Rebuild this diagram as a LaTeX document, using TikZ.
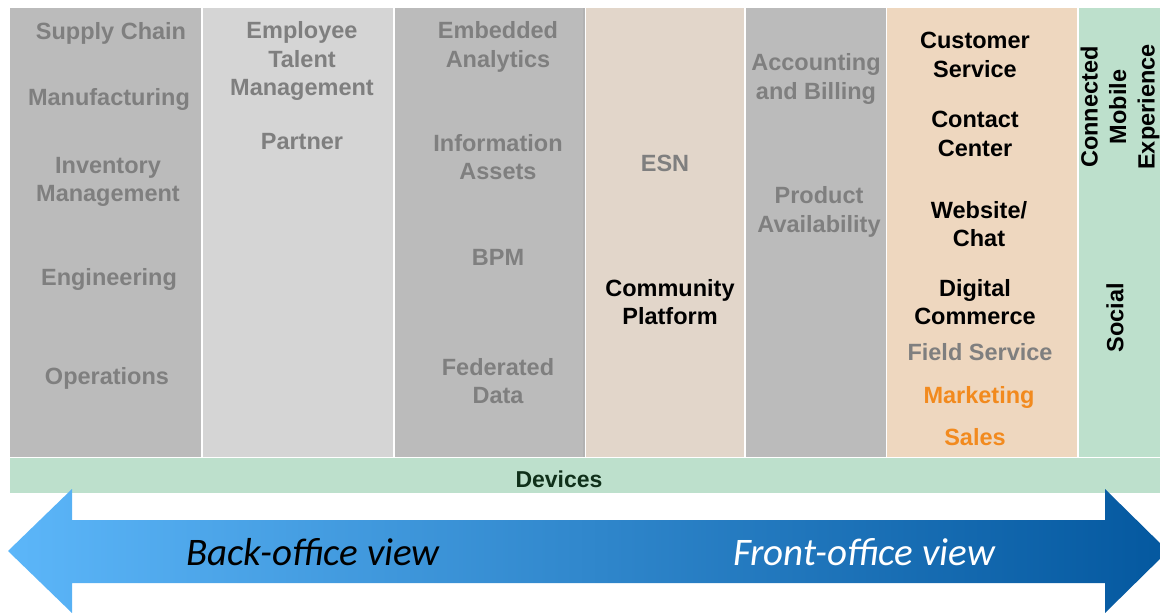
\documentclass[tikz,border=0pt]{standalone}
\usepackage{fontspec}
\setmainfont{Liberation Sans}
\newfontfamily\viewfont{Carlito}
\definecolor{darkcol}{HTML}{BBBBBB}
\definecolor{lightcol}{HTML}{D5D5D5}
\definecolor{esncol}{HTML}{E2D6CA}
\definecolor{frontcol}{HTML}{EED7BF}
\definecolor{greencol}{HTML}{BDE0CC}
\definecolor{txtgrey}{HTML}{7F7F7F}
\definecolor{txtorange}{HTML}{F28A1E}
\definecolor{txtdevices}{HTML}{10301A}
\definecolor{arrowlight}{HTML}{5CB6F9}
\definecolor{arrowmid}{HTML}{0A80E0}
\definecolor{arrowdark}{HTML}{04589F}
\tikzset{
  greytxt/.style={font=\bfseries\fontsize{23.5}{28.5}\selectfont, text=txtgrey, align=center, inner sep=0pt},
  blacktxt/.style={greytxt, text=black},
  orangetxt/.style={greytxt, text=txtorange},
  viewtxt/.style={font=\viewfont\itshape\fontsize{39}{44}\selectfont, inner sep=0pt},
}
\begin{document}
\begin{tikzpicture}[x=1pt,y=-1pt]
\useasboundingbox (0,0) rectangle (1160,613);

% Drawing columns
\fill [darkcol] (10,8) rectangle (201,457);%
\fill [lightcol] (203,8) rectangle (393,457);%
\fill [darkcol] (395,8) rectangle (584,457);%
\draw [line width=1.5pt, black!30] (584,8) -- (584,457);%
\fill [esncol] (586,8) rectangle (744,457);%
\fill [darkcol] (746,8) rectangle (886,457);%
\fill [frontcol] (887,8) rectangle (1077,457);%
\fill [greencol] (1079,8) rectangle (1160,457);%

% Drawing devices bar
\fill [greencol] (10,458) rectangle (1160,493);%
\node (devices) [font=\bfseries\fontsize{23}{26}\selectfont, text=txtdevices, inner sep=0pt] at (559,479) {Devices};%

% Drawing view arrow
\shade [left color=arrowlight, middle color=arrowmid, right color=arrowdark]
  (8,551) -- (72,489) -- (72,520) -- (1105,520) -- (1105,489) -- (1168,551)
  -- (1105,613) -- (1105,583) -- (72,583) -- (72,613) -- cycle;%
\node (back) [viewtxt, text=black] at (313,552) {Back-office view};%
\node (front) [viewtxt, text=white] at (864,552) {Front-office view};%

% Column 1
\node (supply) [greytxt] at (111,33) {Supply Chain};%
\node (manuf) [greytxt] at (109,99) {Manufacturing};%
\node (inventory) [greytxt] at (108,182) {Inventory\\Management};%
\node (engineering) [greytxt] at (109,279) {Engineering};%
\node (operations) [greytxt] at (107,378) {Operations};%

% Column 2
\node (talent) [greytxt] at (302,61) {Employee\\Talent\\Management};%
\node (partner) [greytxt] at (302,142) {Partner};%

% Column 3
\node (analytics) [greytxt] at (498,47) {Embedded\\Analytics};%
\node (assets) [greytxt] at (498,157) {Information\\Assets};%
\node (bpm) [greytxt] at (498,257) {BPM};%
\node (federated) [greytxt] at (498,381) {Federated\\Data};%

% Column 4
\node (esn) [greytxt] at (665,163) {ESN};%
\node (community) [blacktxt] at (670,302) {Community\\Platform};%

% Column 5
\node (accounting) [greytxt] at (816,79) {Accounting\\and Billing};%
\node (product) [greytxt] at (819,212) {Product\\Availability};%

% Column 6
\node (customer) [blacktxt] at (975,55) {Customer\\Service};%
\node (contact) [blacktxt] at (975,134) {Contact\\Center};%
\node (website) [blacktxt] at (979,224) {Website/\\Chat};%
\node (commerce) [blacktxt] at (975,302) {Digital\\Commerce};%
\node (field) [greytxt] at (980,352) {Field Service};%
\node (marketing) [orangetxt] at (979,397) {Marketing};%
\node (sales) [orangetxt] at (975,437) {Sales};%

% Column 7
\node (mobile) [blacktxt, rotate=90] at (1120,107) {Connected\\Mobile\\Experience};%
\node (social) [blacktxt, rotate=90] at (1115,318) {Social};%
\end{tikzpicture}
\end{document}
